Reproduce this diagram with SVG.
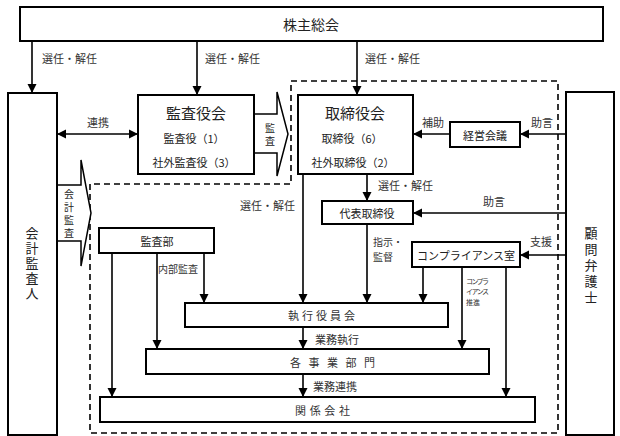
<svg xmlns="http://www.w3.org/2000/svg" width="620" height="436" viewBox="0 0 620 436">
<style>
.box{fill:#fff;stroke:#000;stroke-width:2}
.blk{fill:#fff;stroke:#000;stroke-width:1.5}
.c{stroke:#000;stroke-width:1.6;fill:none}
text{font-family:"Noto Sans CJK JP",sans-serif;fill:#222;dominant-baseline:central}
.t{font-size:11px;text-anchor:middle}
.v{font-size:13px;writing-mode:vertical-rl;letter-spacing:2px}
.vs{font-size:10px;writing-mode:vertical-rl;letter-spacing:3px}
.l{font-size:11px;fill:#333}
.big{font-size:15px;text-anchor:middle}
.s{font-size:7px;fill:#333}
</style>
<defs>
<marker id="ah" viewBox="0 0 10 10" refX="10" refY="5" markerWidth="9" markerHeight="10" markerUnits="userSpaceOnUse" orient="auto-start-reverse">
<path d="M0,0 L10,5 L0,10 z" fill="#000"/>
</marker>
</defs>
<path d="M291,81 H558 V433 H90 V184 H291 Z" fill="none" stroke="#000" stroke-width="1.6" stroke-dasharray="6,4"/>
<g id="connectors">
<line class="c" x1="32" y1="41" x2="32" y2="93" marker-end="url(#ah)"/>
<line class="c" x1="197" y1="41" x2="197" y2="95" marker-end="url(#ah)"/>
<line class="c" x1="357" y1="41" x2="357" y2="95" marker-end="url(#ah)"/>
<line class="c" x1="57" y1="134" x2="138" y2="134" marker-start="url(#ah)" marker-end="url(#ah)"/>
<line class="c" x1="450" y1="134" x2="413" y2="134" marker-end="url(#ah)"/>
<line class="c" x1="566" y1="134" x2="520" y2="134" marker-end="url(#ah)"/>
<line class="c" x1="367" y1="174" x2="367" y2="201" marker-end="url(#ah)"/>
<line class="c" x1="566" y1="213" x2="413" y2="213" marker-end="url(#ah)"/>
<line class="c" x1="566" y1="255" x2="520" y2="255" marker-end="url(#ah)"/>
<line class="c" x1="303" y1="174" x2="303" y2="303" marker-end="url(#ah)"/>
<line class="c" x1="367" y1="224" x2="367" y2="303" marker-end="url(#ah)"/>
<line class="c" x1="423" y1="267" x2="423" y2="303" marker-end="url(#ah)"/>
<line class="c" x1="462" y1="267" x2="462" y2="349" marker-end="url(#ah)"/>
<line class="c" x1="506" y1="267" x2="506" y2="397" marker-end="url(#ah)"/>
<line class="c" x1="112" y1="253" x2="112" y2="397" marker-end="url(#ah)"/>
<line class="c" x1="157" y1="253" x2="157" y2="349" marker-end="url(#ah)"/>
<line class="c" x1="204" y1="253" x2="204" y2="303" marker-end="url(#ah)"/>
<line class="c" x1="303" y1="327" x2="303" y2="349" marker-end="url(#ah)"/>
<line class="c" x1="303" y1="374" x2="303" y2="397" marker-end="url(#ah)"/>
<polygon class="blk" points="254,114 277,114 277,92 288,134 277,176 277,153 254,153"/>
<polygon class="blk" points="57,185 81,185 81,160 91,213 81,266 81,241 57,241"/>
<text class="vs" x="270" y="123">監査</text>
<text class="vs" x="69" y="189">会計監査</text>
<text class="l" x="42" y="58">選任・解任</text>
<text class="l" x="205" y="58">選任・解任</text>
<text class="l" x="365" y="58">選任・解任</text>
<text class="l" x="87" y="122">連携</text>
<text class="l" x="422" y="122">補助</text>
<text class="l" x="531" y="122">助言</text>
<text class="l" x="378" y="185">選任・解任</text>
<text class="l" x="483" y="201">助言</text>
<text class="l" x="240" y="205">選任・解任</text>
<text class="l" x="530" y="241">支援</text>
<text class="l" x="373" y="241" style="font-size:10px">指示・<tspan x="373" dy="14.6">監督</tspan></text>
<text class="l" x="158" y="268" style="font-size:10px">内部監査</text>
<text class="s" x="466" y="281"><tspan textLength="23">コンプラ</tspan><tspan x="466" dy="10.3" textLength="23">イアンス</tspan><tspan x="466" dy="10.3">推進</tspan></text>
<text class="l" x="315" y="339">業務執行</text>
<text class="l" x="313" y="386">業務連携</text>
</g>
<g id="kabunushi">
<rect class="box" x="20" y="7" width="583" height="34"/>
<text class="t" x="311" y="24" style="font-size:14px">株主総会</text>
</g>
<g id="kaikei">
<rect class="box" x="8" y="93" width="49" height="342"/>
<text class="v" x="32" y="227">会計監査人</text>
</g>
<g id="kansayakukai">
<rect class="box" x="138" y="95" width="116" height="79"/>
<text class="big" x="196" y="112">監査役会</text>
<text class="t" x="194" y="138">監査役（1）</text>
<text class="t" x="194" y="162">社外監査役（3）</text>
</g>
<g id="torishimariyakukai">
<rect class="box" x="298" y="95" width="115" height="79"/>
<text class="big" x="355" y="112">取締役会</text>
<text class="t" x="352" y="138">取締役（6）</text>
<text class="t" x="353" y="162">社外取締役（2）</text>
</g>
<g id="keiei">
<rect class="box" x="450" y="122" width="70" height="25"/>
<text class="t" x="485" y="135">経営会議</text>
</g>
<g id="komon">
<rect class="box" x="566" y="92" width="48" height="343"/>
<text class="v" x="591" y="227" style="letter-spacing:3px">顧問弁護士</text>
</g>
<g id="daihyo">
<rect class="box" x="322" y="201" width="91" height="23"/>
<text class="t" x="367" y="213">代表取締役</text>
</g>
<g id="compliance">
<rect class="box" x="412" y="242" width="108" height="25"/>
<text class="t" x="466" y="255">コンプライアンス室</text>
</g>
<g id="kansabu">
<rect class="box" x="99" y="228" width="115" height="25"/>
<text class="t" x="157" y="241">監査部</text>
</g>
<g id="shikko">
<rect class="box" x="185" y="303" width="263" height="24"/>
<text class="l" x="288" y="315" textLength="67">執行役員会</text>
</g>
<g id="jigyobumon">
<rect class="box" x="146" y="349" width="343" height="25"/>
<text class="l" x="290" y="362" textLength="85">各事業部門</text>
</g>
<g id="kankei">
<rect class="box" x="100" y="397" width="435" height="25"/>
<text class="l" x="295" y="410" textLength="55">関係会社</text>
</g>
</svg>
